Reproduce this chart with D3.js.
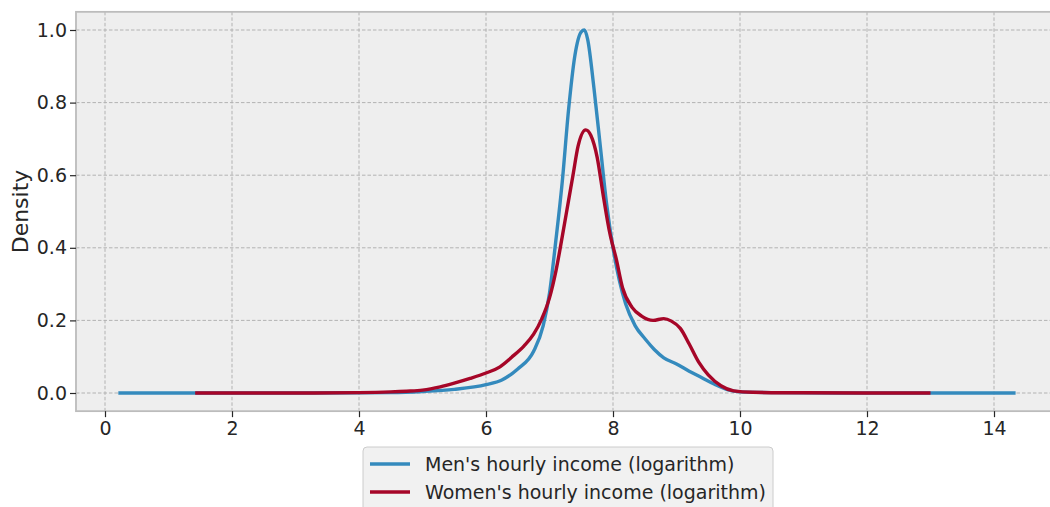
<!DOCTYPE html>
<html>
<head>
<meta charset="utf-8">
<script src="https://d3js.org/d3.v7.min.js"></script>
<style>
body { margin: 0; background: #fff; }
text { font-family: "DejaVu Sans", sans-serif; fill: #262626; }
</style>
</head>
<body>
<script>
// values (log hourly income, KDE density)
var menX = [0.21, 2, 4, 4.5, 5, 5.5, 6, 6.25, 6.5, 6.75, 6.9, 7.0, 7.1, 7.2, 7.3, 7.4, 7.5, 7.55, 7.6, 7.7, 7.8, 7.9, 8.0, 8.1, 8.2, 8.35, 8.5, 8.65, 8.8, 9.0, 9.2, 9.4, 9.6, 9.8, 10.0, 10.5, 11, 12, 14.34];
var menY = [0, 0, 0.0005, 0.001, 0.004, 0.01, 0.023, 0.036, 0.066, 0.115, 0.185, 0.275, 0.42, 0.58, 0.78, 0.93, 0.995, 1.0, 0.975, 0.84, 0.68, 0.52, 0.4, 0.31, 0.245, 0.185, 0.15, 0.12, 0.097, 0.08, 0.06, 0.042, 0.024, 0.009, 0.003, 0.001, 0.0005, 0, 0];
var womenX = [1.42, 3, 4, 4.5, 4.75, 5.0, 5.28, 5.5, 5.75, 6.0, 6.22, 6.4, 6.6, 6.75, 6.88, 7.0, 7.1, 7.2, 7.3, 7.37, 7.45, 7.57, 7.65, 7.75, 7.85, 7.95, 8.05, 8.15, 8.3, 8.45, 8.63, 8.8, 8.92, 9.06, 9.2, 9.35, 9.5, 9.7, 9.9, 10.2, 11, 13.0];
var womenY = [0, 0, 0.001, 0.003, 0.005, 0.008, 0.017, 0.027, 0.04, 0.055, 0.072, 0.098, 0.13, 0.162, 0.205, 0.262, 0.335, 0.43, 0.53, 0.6, 0.68, 0.725, 0.71, 0.65, 0.54, 0.44, 0.37, 0.29, 0.236, 0.212, 0.2, 0.205, 0.198, 0.178, 0.135, 0.085, 0.05, 0.02, 0.006, 0.002, 0.0005, 0];
var xTicks = [0, 2, 4, 6, 8, 10, 12, 14];
var yTicks = [0.0, 0.2, 0.4, 0.6, 0.8, 1.0];
var seriesNames = ["Men's hourly income (logarithm)", "Women's hourly income (logarithm)"];
var colors = ["#348ABD", "#A60628"];

var width = 1050, height = 507;
var x = d3.scaleLinear().domain([0, 14]).range([105, 994]);
var y = d3.scaleLinear().domain([0, 1]).range([393, 30]);
var xMin = -0.457, xMax = 15.06, yMin = -0.05, yMax = 1.05;

var svg = d3.select("body").append("svg")
  .attr("width", width).attr("height", height);

// axes background
svg.append("rect")
  .attr("x", x(xMin)).attr("y", y(yMax))
  .attr("width", x(xMax) - x(xMin)).attr("height", y(yMin) - y(yMax))
  .attr("fill", "#eeeeee");

// grid
svg.append("g").selectAll("line").data(xTicks).enter().append("line")
  .attr("x1", d => x(d)).attr("x2", d => x(d))
  .attr("y1", y(yMax)).attr("y2", y(yMin))
  .attr("stroke", "#b2b2b2").attr("stroke-width", 1).attr("stroke-dasharray", "3.5,2");
svg.append("g").selectAll("line").data(yTicks).enter().append("line")
  .attr("y1", d => y(d)).attr("y2", d => y(d))
  .attr("x1", x(xMin)).attr("x2", x(xMax))
  .attr("stroke", "#b2b2b2").attr("stroke-width", 1).attr("stroke-dasharray", "3.5,2");

// curves
var line = d3.line().x(d => x(d[0])).y(d => y(d[1])).curve(d3.curveMonotoneX);
var series = [d3.zip(menX, menY), d3.zip(womenX, womenY)];
svg.append("g").selectAll("path").data(series).enter().append("path")
  .attr("d", line)
  .attr("fill", "none")
  .attr("stroke", (d, i) => colors[i])
  .attr("stroke-width", 3.4)
  .attr("stroke-linejoin", "round");

// frame
svg.append("rect")
  .attr("x", x(xMin)).attr("y", y(yMax))
  .attr("width", x(xMax) - x(xMin)).attr("height", y(yMin) - y(yMax))
  .attr("fill", "none").attr("stroke", "#bcbcbc").attr("stroke-width", 1.8);

// axes
var xAxis = svg.append("g")
  .attr("transform", "translate(0," + y(yMin) + ")")
  .call(d3.axisBottom(x).tickValues(xTicks).tickFormat(d3.format("d")).tickSize(6).tickPadding(4));
var yAxis = svg.append("g")
  .attr("transform", "translate(" + x(xMin) + ",0)")
  .call(d3.axisLeft(y).tickValues(yTicks).tickFormat(d3.format(".1f")).tickSize(6).tickPadding(3));
[xAxis, yAxis].forEach(function (a) {
  a.select(".domain").remove();
  a.selectAll(".tick line").attr("stroke", "#262626").attr("stroke-width", 1.2);
  a.selectAll(".tick text").attr("font-size", 19).attr("fill", "#262626")
    .style("font-family", "DejaVu Sans");
});

// y label
svg.append("text")
  .attr("transform", "translate(28," + ((y(yMax) + y(yMin)) / 2) + ") rotate(-90)")
  .attr("text-anchor", "middle")
  .attr("font-size", 22)
  .text("Density");

// legend
var lg = svg.append("g").attr("transform", "translate(363,447)");
lg.append("rect")
  .attr("width", 410).attr("height", 70).attr("rx", 4)
  .attr("fill", "#f1f1f1").attr("stroke", "#cccccc").attr("stroke-width", 1);
var item = lg.selectAll("g").data(seriesNames).enter().append("g")
  .attr("transform", (d, i) => "translate(0," + (17 + i * 28) + ")");
item.append("line")
  .attr("x1", 7).attr("x2", 47)
  .attr("stroke", (d, i) => colors[i]).attr("stroke-width", 3.4);
item.append("text")
  .attr("x", 62).attr("y", 7)
  .attr("font-size", 19)
  .text(d => d);
</script>
</body>
</html>
